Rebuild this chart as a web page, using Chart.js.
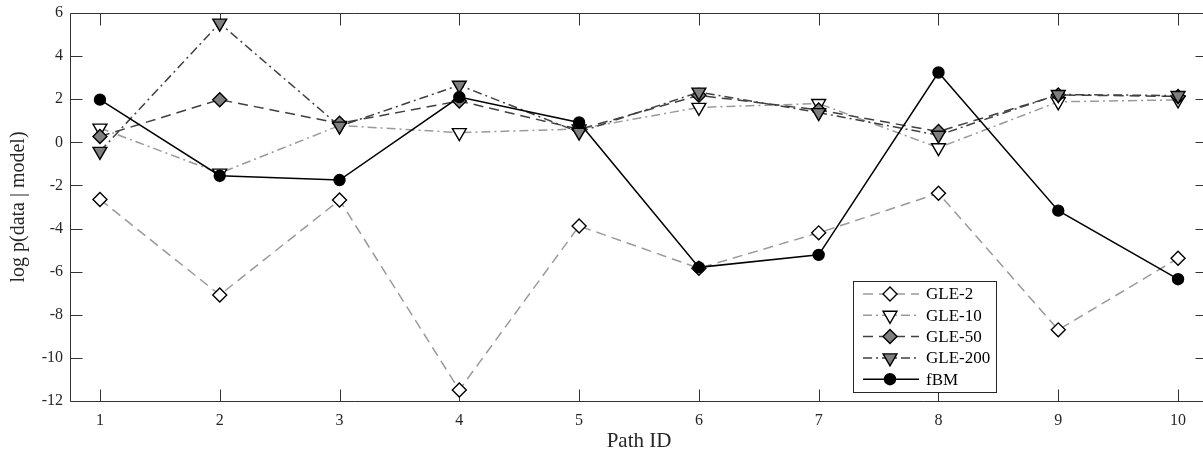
<!DOCTYPE html>
<html>
<head>
<meta charset="utf-8">
<script src="https://cdn.jsdelivr.net/npm/chart.js@4/dist/chart.umd.min.js"></script>
<style>
html,body{margin:0;padding:0;background:#fff;overflow:hidden;}
#wrap{width:1203px;height:459px;position:relative;overflow:hidden;}
#c{position:absolute;left:0;top:0;}
</style>
</head>
<body>
<div id="wrap"><canvas id="c" width="1208" height="459"></canvas></div>
<script>
// ---- data ----
const pathIds = [1, 2, 3, 4, 5, 6, 7, 8, 9, 10];
const gle2    = [-2.65, -7.08, -2.68, -11.49, -3.88, -5.84, -4.20, -2.36, -8.70, -5.38];
const gle10   = [0.66, -1.43, 0.78, 0.45, 0.62, 1.62, 1.80, -0.25, 1.88, 1.97];
const gle50   = [0.27, 1.98, 0.88, 1.92, 0.60, 2.18, 1.50, 0.50, 2.20, 2.13];
const gle200  = [-0.42, 5.53, 0.75, 2.65, 0.47, 2.33, 1.38, 0.33, 2.22, 2.17];
const fbm     = [1.98, -1.55, -1.75, 2.10, 0.92, -5.80, -5.22, 3.24, -3.17, -6.35];
const xTicks  = [1, 2, 3, 4, 5, 6, 7, 8, 9, 10];
const yTicks  = [-12, -10, -8, -6, -4, -2, 0, 2, 4, 6];
const seriesLabels = ['GLE-2', 'GLE-10', 'GLE-50', 'GLE-200', 'fBM'];

const SERIF = '"Liberation Serif", "Times New Roman", serif';
const pts = arr => pathIds.map((p, i) => ({x: p, y: arr[i]}));

const DASH = [10, 6];
const DASHDOT = [9, 4, 2, 4];

const datasets = [
  {label: seriesLabels[0], data: pts(gle2), borderColor: '#9a9a9a', borderDash: DASH,
   pointStyle: 'rectRot', pointRadius: 7, pointRotation: 0, pointBackgroundColor: '#ffffff', order: 5},
  {label: seriesLabels[1], data: pts(gle10), borderColor: '#9a9a9a', borderDash: DASHDOT,
   pointStyle: 'triangle', pointRadius: 8, pointRotation: 180, pointBackgroundColor: '#ffffff', order: 4},
  {label: seriesLabels[2], data: pts(gle50), borderColor: '#404040', borderDash: DASH,
   pointStyle: 'rectRot', pointRadius: 7, pointRotation: 0, pointBackgroundColor: '#7f7f7f', order: 3},
  {label: seriesLabels[3], data: pts(gle200), borderColor: '#404040', borderDash: DASHDOT,
   pointStyle: 'triangle', pointRadius: 8, pointRotation: 180, pointBackgroundColor: '#7f7f7f', order: 2},
  {label: seriesLabels[4], data: pts(fbm), borderColor: '#000000', borderDash: [],
   pointStyle: 'circle', pointRadius: 5.5, pointRotation: 0, pointBackgroundColor: '#000000', order: 1}
].map(d => Object.assign({
  borderWidth: 1.5, pointBorderColor: '#000000', pointBorderWidth: 1.4,
  pointHoverRadius: d.pointRadius, fill: false, tension: 0
}, d));

// stretch the plot area to the canvas' right edge (axes box runs past the visible window)
const areaPlugin = {
  id: 'areaFix',
  afterLayout(chart) {
    const a = chart.chartArea, x = chart.scales.x;
    a.right = chart.width;
    a.width = a.right - a.left;
    x.right = chart.width;
    x.width = x.right - x.left;
    x.configure();
  }
};

// inward ticks + box (MATLAB style)
const boxPlugin = {
  id: 'boxTicks',
  beforeDatasetsDraw(chart) {
    const {ctx, chartArea: a, scales: {x, y}} = chart;
    const L = 12;
    ctx.save();
    ctx.strokeStyle = '#333333';
    ctx.lineWidth = 1;
    ctx.setLineDash([]);
    ctx.beginPath();
    const l = Math.round(a.left) + 0.5, r = Math.round(a.right) - 0.5;
    const t = Math.round(a.top) + 0.5, b = Math.round(a.bottom) + 0.5;
    ctx.rect(l, t, r - l, b - t);
    x.ticks.forEach(tk => {
      const px = Math.round(x.getPixelForValue(tk.value)) + 0.5;
      ctx.moveTo(px, b); ctx.lineTo(px, b - L);
      ctx.moveTo(px, t); ctx.lineTo(px, t + L);
    });
    y.ticks.forEach(tk => {
      const py = Math.round(y.getPixelForValue(tk.value)) + 0.5;
      ctx.moveTo(l, py); ctx.lineTo(l + L, py);
      ctx.moveTo(r, py); ctx.lineTo(r - L, py);
    });
    ctx.stroke();
    ctx.restore();
  }
};

// legend inside the axes, lower right
const legendPlugin = {
  id: 'insideLegend',
  afterDatasetsDraw(chart) {
    const ctx = chart.ctx;
    const bx = 853, by = 281, bw = 143, bh = 111;
    ctx.save();
    ctx.setLineDash([]);
    ctx.fillStyle = '#ffffff';
    ctx.fillRect(bx, by, bw, bh);
    ctx.strokeStyle = '#262626';
    ctx.lineWidth = 1;
    ctx.strokeRect(bx + 0.5, by + 0.5, bw, bh);
    chart.data.datasets.forEach((ds, i) => {
      const yy = 294 + i * 21.3;
      ctx.save();
      ctx.strokeStyle = ds.borderColor;
      ctx.lineWidth = ds.borderWidth;
      ctx.setLineDash(ds.borderDash || []);
      ctx.beginPath();
      ctx.moveTo(863, yy); ctx.lineTo(919, yy);
      ctx.stroke();
      ctx.setLineDash([]);
      ctx.fillStyle = ds.pointBackgroundColor;
      ctx.strokeStyle = ds.pointBorderColor;
      ctx.lineWidth = ds.pointBorderWidth;
      Chart.helpers.drawPoint(ctx, {
        pointStyle: ds.pointStyle, rotation: ds.pointRotation,
        radius: ds.pointRadius, borderWidth: ds.pointBorderWidth
      }, 890, yy);
      ctx.restore();
      ctx.fillStyle = '#000000';
      ctx.font = '17px ' + SERIF;
      ctx.textAlign = 'left';
      ctx.textBaseline = 'middle';
      ctx.fillText(ds.label, 926, yy + 1);
    });
    ctx.restore();
  }
};

const noPad = s => { s.paddingLeft = 0; s.paddingRight = 0; s.paddingTop = 0; s.paddingBottom = 0; };

new Chart(document.getElementById('c'), {
  type: 'line',
  data: {datasets},
  options: {
    responsive: false,
    animation: false,
    devicePixelRatio: 1,
    layout: {padding: {left: 0, top: 13, right: 0, bottom: 0}},
    plugins: {legend: {display: false}, tooltip: {enabled: false}},
    scales: {
      x: {
        type: 'linear', min: 0.75, max: 10.25,
        afterBuildTicks: s => { s.ticks = xTicks.map(v => ({value: v})); },
        afterFit: s => { s.height = 58; noPad(s); },
        grid: {display: false, drawTicks: false},
        border: {display: false},
        ticks: {font: {family: SERIF, size: 16}, color: '#262626', padding: 10, maxRotation: 0, autoSkip: false},
        title: {display: true, text: 'Path ID', font: {family: SERIF, size: 21}, color: '#262626',
                padding: {top: 0, bottom: 5}}
      },
      y: {
        type: 'linear', min: -12, max: 6,
        afterBuildTicks: s => { s.ticks = yTicks.map(v => ({value: v})); },
        afterFit: s => { s.width = 70; noPad(s); },
        grid: {display: false, drawTicks: false},
        border: {display: false},
        ticks: {font: {family: SERIF, size: 16}, color: '#262626', padding: 7, autoSkip: false},
        title: {display: true, text: 'log p(data | model)', font: {family: SERIF, size: 20}, color: '#262626',
                padding: {top: 7, bottom: 0}}
      }
    }
  },
  plugins: [areaPlugin, boxPlugin, legendPlugin]
});
</script>
</body>
</html>
